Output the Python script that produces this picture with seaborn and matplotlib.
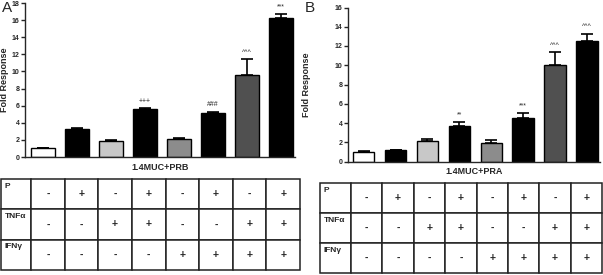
import numpy as np
import matplotlib
matplotlib.use("Agg")
import matplotlib.pyplot as plt
import seaborn as sns

# Treatment layout (shared by both panels)
p_signs = ["-", "+", "-", "+", "-", "+", "-", "+"]
tnf_signs = ["-", "-", "+", "+", "-", "-", "+", "+"]
ifn_signs = ["-", "-", "-", "-", "+", "+", "+", "+"]
row_labels = ["P", "TNFα", "IFNγ"]
bar_colors = ["#ffffff", "#000000", "#c8c8c8", "#000000",
              "#8c8c8c", "#000000", "#505050", "#000000"]

# Panel A: 1.4MUC+PRB
prb_mean = [1.0, 3.25, 1.9, 5.65, 2.05, 5.1, 9.6, 16.25]
prb_err = [0.08, 0.1, 0.05, 0.05, 0.15, 0.2, 1.8, 0.5]
prb_marks = ["", "", "", "+++", "", "###", "^^^", "***"]

# Panel B: 1.4MUC+PRA
pra_mean = [1.0, 1.15, 2.15, 3.65, 1.95, 4.55, 10.05, 12.55]
pra_err = [0.12, 0.05, 0.2, 0.45, 0.3, 0.5, 1.3, 0.7]
pra_marks = ["", "", "", "**", "", "***", "^^^", "^^^"]

sns.set_style("ticks")
plt.rcParams['font.family'] = ['Liberation Sans', 'DejaVu Sans']

W, H = 603, 275
fig = plt.figure(figsize=(W / 100, H / 100), dpi=100)

conds = [f"P{p}T{t}I{i}" for p, t, i in zip(p_signs, tnf_signs, ifn_signs)]


def px_rect(x0, y0, x1, y1):
    # pixel box (top-left origin) -> figure fraction rect
    return [x0 / W, 1 - y1 / H, (x1 - x0) / W, (y1 - y0) / H]


def bar_panel(rect, means, errs, marks, xlabel, ymax, xlim, width, ylabelpad):
    ax = fig.add_axes(rect)
    sns.barplot(x=conds, y=means, hue=conds, palette=bar_colors, legend=False,
                saturation=1, width=width, edgecolor="black", linewidth=1, ax=ax)
    n = len(means)
    ax.errorbar(np.arange(n), means, yerr=[np.zeros(n), errs], fmt="none",
                ecolor="black", elinewidth=1.2, capsize=4, capthick=1.2)
    for i, m in enumerate(marks):
        if m:
            ax.annotate(m, (i, means[i] + errs[i]), xytext=(0, 2.5),
                        textcoords="offset points", ha="center", va="bottom",
                        fontsize=5)
    ax.set_xlim(*xlim)
    ax.set_ylim(0, ymax)
    ax.set_yticks(range(0, ymax + 1, 2))
    ax.tick_params(axis="y", labelsize=5, length=3, width=1, pad=1)
    for lab in ax.get_yticklabels():
        lab.set_fontweight("bold")
    ax.tick_params(axis="x", length=0, labelbottom=False)
    ax.set_xlabel(xlabel, fontsize=6.5, fontweight="bold", labelpad=4)
    ax.set_ylabel("Fold Response", fontsize=6.5, fontweight="bold", labelpad=ylabelpad)
    for side in ["top", "right"]:
        ax.spines[side].set_visible(False)
    for side in ["left", "bottom"]:
        ax.spines[side].set_linewidth(1)
    return ax


def sign_table(rect, first_col_px, total_px):
    tax = fig.add_axes(rect)
    tax.axis("off")
    cells = [[""] + p_signs, [""] + tnf_signs, [""] + ifn_signs]
    other = (1 - first_col_px / total_px) / 8
    widths = [first_col_px / total_px] + [other] * 8
    tbl = tax.table(cellText=cells, cellLoc="center", bbox=[0, 0, 1, 1],
                    colWidths=widths)
    tbl.auto_set_font_size(False)
    tbl.set_fontsize(7.5)
    for cell in tbl.get_celld().values():
        cell.set_linewidth(1.1)
        cell.set_edgecolor("#222222")
        cell.get_text().set_fontweight("bold")
    for r, lab in enumerate(row_labels):
        tax.text(0.012, 1 - r / 3 - 0.04, lab, ha="left", va="top",
                 fontsize=6, fontweight="bold", transform=tax.transAxes)
    return tax


bar_panel(px_rect(25, 3, 295, 157), prb_mean, prb_err, prb_marks,
          "1.4MUC+PRB", 18, (-0.53, 7.41), 0.68, 2)
bar_panel(px_rect(348, 7.5, 600, 161.5), pra_mean, pra_err, pra_marks,
          "1.4MUC+PRA", 16, (-0.49, 7.41), 0.67, 17)

sign_table(px_rect(1, 179, 300, 270), 30, 299)
sign_table(px_rect(320, 183, 602, 273), 31, 282)

fig.text(2 / W, 1 - 1 / H, "A", fontsize=11, ha="left", va="top")
fig.text(305 / W, 1 - 1 / H, "B", fontsize=11, ha="left", va="top")

fig.savefig("out.png", dpi=100)
